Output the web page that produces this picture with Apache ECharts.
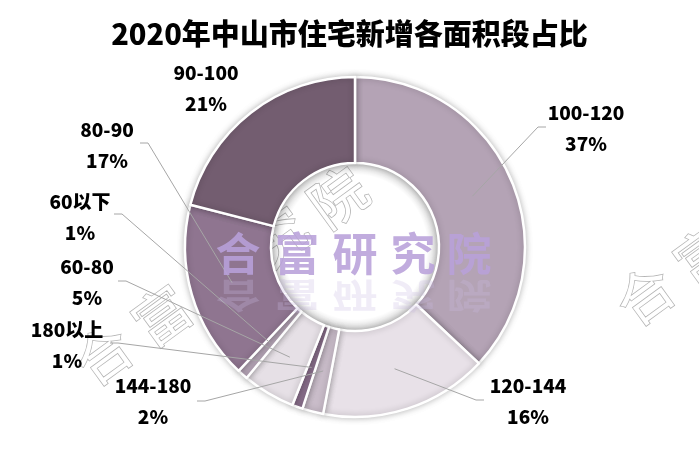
<!DOCTYPE html>
<html>
<head>
<meta charset="utf-8">
<script src="https://cdn.jsdelivr.net/npm/echarts@6/dist/echarts.min.js"></script>
<style>
html,body{margin:0;padding:0;background:#fff;}
#chart{width:699px;height:460px;}
</style>
</head>
<body>
<div id="chart"></div>
<script>
// ---- data ----
var titleText = '2020年中山市住宅新增各面积段占比';
var categories = ['100-120', '120-144', '144-180', '180以上', '60-80', '60以下', '80-90', '90-100'];
var shares = [37, 16, 2, 1, 5, 1, 17, 21];
var watermarkChars = ['合', '富', '研', '究', '院'];

// ---- styling / layout (not data) ----
var sliceColors = ['#b4a3b5', '#e8e1e8', '#c9bcc9', '#8e7290', '#e6e0e6', '#b9a8ba', '#8f7590', '#735d70'];
var CX = 355, CY = 247;
// label centres and line end points for each category
var labelPos = [
  {x: 586, y: 128, end: [546, 127], side: 'R'},
  {x: 528, y: 401, end: [484, 400], side: 'R'},
  {x: 153, y: 401, end: [197, 401], side: 'L'},
  {x: 67,  y: 345, end: [110, 343], side: 'L'},
  {x: 87,  y: 282, end: [118, 281], side: 'L'},
  {x: 80,  y: 217, end: [114, 214], side: 'L'},
  {x: 107, y: 145, end: [140, 143], side: 'L'},
  {x: 206, y: 88,  end: null, side: 'L'}
];

var chart = echarts.init(document.getElementById('chart'), null, {renderer: 'canvas'});

var mainData = categories.map(function (n, i) {
  return {name: n, value: shares[i], itemStyle: {color: sliceColors[i]}};
});
var labelData = categories.map(function (n, i) {
  return {name: n, value: shares[i], labelLine: {show: labelPos[i].end !== null}};
});

var graphics = [];
// outlined diagonal watermark (below the ring)
function addOutlineWatermark(x0, y0) {
  for (var k = 0; k < watermarkChars.length; k++) {
    graphics.push({
      type: 'text', z: 0,
      x: x0 + k * 58.75, y: y0 - k * 39.5,
      rotation: 36 * Math.PI / 180,
      silent: true,
      style: {
        text: watermarkChars[k],
        fontSize: 56, fontFamily: 'Noto Sans CJK SC', fontWeight: 'normal',
        fill: '#ffffff', stroke: '#b4b4b4', lineWidth: 1.6,
        shadowBlur: 2, shadowColor: 'rgba(0,0,0,0.15)',
        align: 'center', verticalAlign: 'middle'
      }
    });
  }
}
addOutlineWatermark(103, 355);
addOutlineWatermark(645, 295);

// inner hole inset shadow
graphics.push({
  type: 'circle', z: 1, silent: true,
  shape: {cx: CX, cy: CY, r: 84},
  style: {
    fill: {type: 'radial', x: 0.5, y: 0.5, r: 0.5,
      colorStops: [{offset: 0, color: 'rgba(0,0,0,0)'}, {offset: 0.86, color: 'rgba(0,0,0,0)'}, {offset: 1, color: 'rgba(0,0,0,0.16)'}]}
  }
});

// centre watermark with faint reflection
var wmX = [238, 297, 355, 413, 469];
for (var k = 0; k < watermarkChars.length; k++) {
  graphics.push({
    type: 'text', z: 50, silent: true,
    x: wmX[k], y: 254,
    style: {
      text: watermarkChars[k], fontSize: 45, fontWeight: 'bold', fontFamily: 'Noto Sans CJK SC',
      fill: 'rgba(184,160,218,0.88)', align: 'center', verticalAlign: 'middle'
    }
  });
  graphics.push({
    type: 'text', z: 49, silent: true,
    x: wmX[k], y: 296, scaleY: -0.75,
    style: {
      text: watermarkChars[k], fontSize: 45, fontWeight: 'bold', fontFamily: 'Noto Sans CJK SC',
      fill: 'rgba(200,185,228,0.28)', align: 'center', verticalAlign: 'middle'
    }
  });
}

var option = {
  backgroundColor: '#ffffff',
  animation: false,
  title: {
    text: titleText,
    left: 'center', top: 14,
    textStyle: {fontSize: 29, fontWeight: 900, color: '#000', fontFamily: 'Noto Sans CJK SC'}
  },
  graphic: {elements: graphics},
  series: [
    {
      type: 'pie', z: 2,
      center: [CX, CY], radius: [84, 170],
      startAngle: 90, clockwise: true,
      avoidLabelOverlap: false,
      silent: true,
      label: {show: false}, labelLine: {show: false},
      itemStyle: {borderColor: '#ffffff', borderWidth: 2.5, shadowBlur: 6, shadowColor: 'rgba(0,0,0,0.25)'},
      data: mainData
    },
    {
      type: 'pie', z: 3,
      center: [CX, CY], radius: [0, 128],
      startAngle: 90, clockwise: true,
      avoidLabelOverlap: false,
      silent: true,
      itemStyle: {color: 'rgba(0,0,0,0)', borderWidth: 0},
      label: {
        show: true, position: 'outside',
        formatter: '{b}\n{c}%',
        fontSize: 19, fontWeight: 900, color: '#000', lineHeight: 31,
        fontFamily: 'Noto Sans CJK SC', align: 'center'
      },
      labelLine: {show: true, length: 10, length2: 10, lineStyle: {color: '#a6a6a6', width: 1}},
      labelLayout: function (params) {
        var p = labelPos[params.dataIndex];
        var res = {x: p.x, y: p.y, align: 'center', verticalAlign: 'middle'};
        if (p.end && params.labelLinePoints) {
          var s = params.labelLinePoints[0];
          var ex = p.end[0], ey = p.end[1];
          var elbowX = p.side === 'R' ? ex - 8 : ex + 8;
          res.labelLinePoints = [[s[0], s[1]], [elbowX, ey], [ex, ey]];
        }
        return res;
      },
      data: labelData
    }
  ]
};
chart.setOption(option);
</script>
</body>
</html>
